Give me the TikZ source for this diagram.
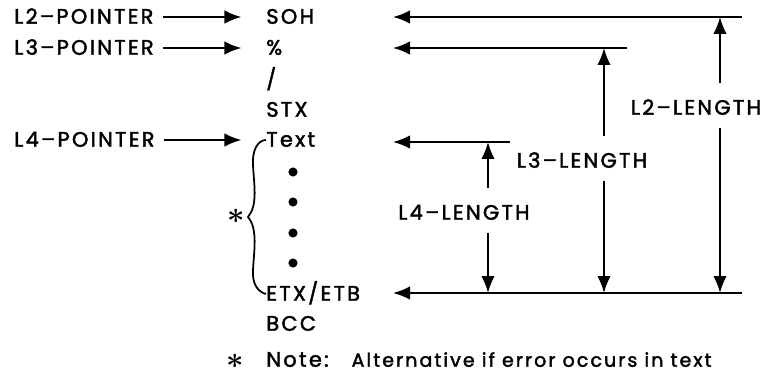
\documentclass[tikz,border=0pt]{standalone}
\usepackage{fontspec}
\setmainfont{Poppins}[LetterSpace=11,FakeBold=2]
\usetikzlibrary{arrows.meta,positioning,calc}
\tikzset{
 lbl/.style={inner sep=0pt,anchor=west,font=\fontsize{11.9}{13}\selectfont,text height=1.6ex,text depth=0.2ex},
 ptr/.style={line width=1.1pt,-{Latex[length=3.4mm,width=2.7mm]}},
 dim/.style={line width=1.1pt,-{Latex[length=3.4mm,width=2.7mm]}},
 dot/.style={circle,fill,inner sep=0pt,minimum size=5.2pt},
 star/.style={inner sep=0pt,font=\LARGE\boldmath},
}

\begin{document}
\begin{tikzpicture}[x=0.02cm,y=-0.02cm]
\useasboundingbox (0,0) rectangle (767,382);
% pointers
\node[lbl] (l2p) at (14,17) {L2--POINTER};
\node[lbl] (l3p) at (14,48) {L3--POINTER};
\node[lbl] (l4p) at (14,140) {L4--POINTER};
% frame
\node[lbl] (soh) at (266,17) {SOH};
\node[lbl] (pct) at (266,48) {\%};
\node[lbl] (slash) at (266,80) {/};
\node[lbl] (stx) at (266,110) {STX};
\node[lbl] (txt) at (266,140) {Text};
\node[dot] (d1) at (293,172) {};
\node[dot] (d2) at (293,202) {};
\node[dot] (d3) at (293,233) {};
\node[dot] (d4) at (293,263) {};
\node[lbl] (etx) at (266,294) {ETX/ETB};
\node[lbl] (bcc) at (266,324) {BCC};
\node[star] (ast) at (236,216) {$\ast$};
\node[star] (nast) at (235,361) {$\ast$};
\node[lbl] (note) at (266,360) {Note:\hspace{1.1em}\fontsize{10.8}{12}\selectfont Alternative if error occurs in text};
\draw[ptr,shorten <=5pt,shorten >=14pt] (l2p.east) -- (soh.west);
\draw[ptr,shorten <=5pt,shorten >=14pt] (l3p.east) -- (pct.west);
\draw[ptr,shorten <=5pt,shorten >=14pt] (l4p.east) -- (txt.west);
% brace
\draw[line width=1pt] (txt.west) .. controls (258,140) and (252,150) .. (253,165)
 .. controls (254,185) and (258,205) .. (248,217)
 .. controls (258,229) and (254,250) .. (253,270)
 .. controls (252,284) and (258,292) .. (etx.west);
% lengths
\coordinate (tip) at (393,0);
\coordinate (a2) at (742,17);
\coordinate (a3) at (627,48);
\coordinate (a4) at (510,142);
\coordinate (ab) at (742,293);
\draw[ptr] (a2) -- (a2 -| tip);
\draw[ptr] (a3) -- (a3 -| tip);
\draw[ptr] (a4) -- (a4 -| tip);
\draw[ptr] (ab) -- (ab -| tip);
\node[lbl,anchor=center] (l2len) at (696,108) {L2--LENGTH};
\node[lbl,anchor=center] (l3len) at (582,161) {L3--LENGTH};
\node[lbl,anchor=center] (l4len) at (464,213) {L4--LENGTH};
\coordinate (v2) at (720,0);
\coordinate (v3) at (604,0);
\coordinate (v4) at (488,0);
\draw[dim] ([yshift=9pt]l2len.north -| v2) -- (a2 -| v2);
\draw[dim] ([yshift=-6pt]l2len.south -| v2) -- (ab -| v2);
\draw[dim] ([yshift=9pt]l3len.north -| v3) -- (a3 -| v3);
\draw[dim] ([yshift=-6pt]l3len.south -| v3) -- (ab -| v3);
\draw[dim] ([yshift=9pt]l4len.north -| v4) -- (a4 -| v4);
\draw[dim] ([yshift=-6pt]l4len.south -| v4) -- (ab -| v4);
\end{tikzpicture}
\end{document}
